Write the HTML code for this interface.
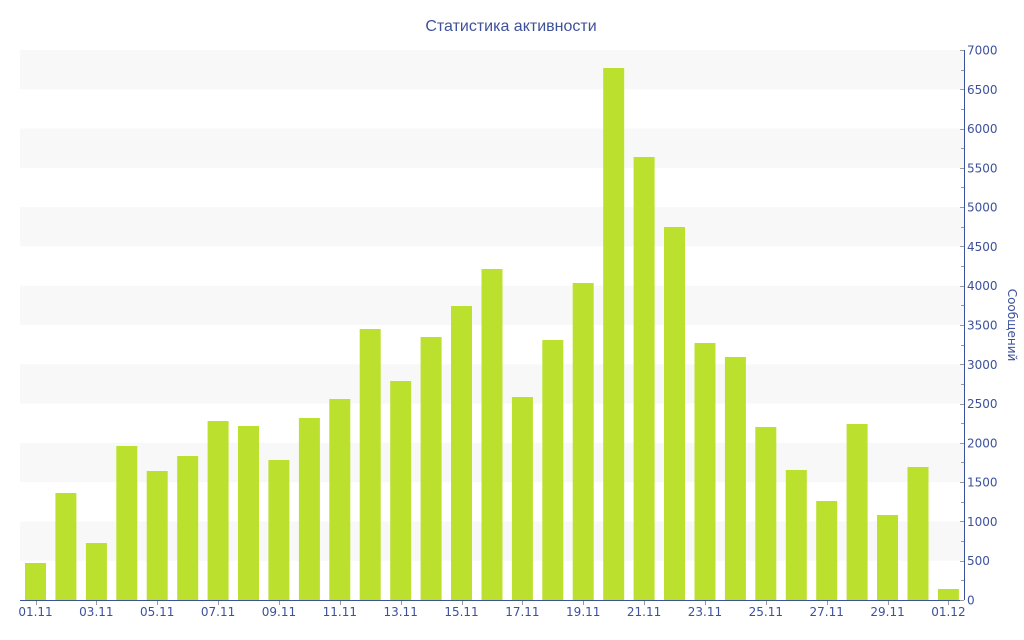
<!DOCTYPE html>
<html><head><meta charset="utf-8"><style>body{margin:0;background:#fff}svg{display:block}text{font-family:"DejaVu Sans","Liberation Sans",sans-serif;fill:#3d519b}</style></head><body>
<svg width="1024" height="640" xmlns="http://www.w3.org/2000/svg">
<text x="511" y="31" font-size="16" text-anchor="middle" style="font-family:'Liberation Sans',sans-serif">Статистика активности</text>
<g fill="#f8f8f8">
<rect x="20" y="50" width="944" height="39.3"/>
<rect x="20" y="128.6" width="944" height="39.3"/>
<rect x="20" y="207.1" width="944" height="39.3"/>
<rect x="20" y="285.7" width="944" height="39.3"/>
<rect x="20" y="364.3" width="944" height="39.3"/>
<rect x="20" y="442.9" width="944" height="39.3"/>
<rect x="20" y="521.4" width="944" height="39.3"/>
</g>
<g fill="#bce02e">
<rect x="25" y="563" width="21" height="37"/>
<rect x="55.4" y="493" width="21" height="107"/>
<rect x="85.9" y="543" width="21" height="57"/>
<rect x="116.3" y="446" width="21" height="154"/>
<rect x="146.7" y="471" width="21" height="129"/>
<rect x="177.2" y="456" width="21" height="144"/>
<rect x="207.6" y="421" width="21" height="179"/>
<rect x="238" y="426" width="21" height="174"/>
<rect x="268.4" y="460" width="21" height="140"/>
<rect x="298.9" y="418" width="21" height="182"/>
<rect x="329.3" y="399" width="21" height="201"/>
<rect x="359.7" y="329" width="21" height="271"/>
<rect x="390.2" y="381" width="21" height="219"/>
<rect x="420.6" y="337" width="21" height="263"/>
<rect x="451" y="306" width="21" height="294"/>
<rect x="481.5" y="269" width="21" height="331"/>
<rect x="511.9" y="397" width="21" height="203"/>
<rect x="542.3" y="340" width="21" height="260"/>
<rect x="572.7" y="283" width="21" height="317"/>
<rect x="603.2" y="68" width="21" height="532"/>
<rect x="633.6" y="157" width="21" height="443"/>
<rect x="664" y="227" width="21" height="373"/>
<rect x="694.5" y="343" width="21" height="257"/>
<rect x="724.9" y="357" width="21" height="243"/>
<rect x="755.3" y="427" width="21" height="173"/>
<rect x="785.8" y="470" width="21" height="130"/>
<rect x="816.2" y="501" width="21" height="99"/>
<rect x="846.6" y="424" width="21" height="176"/>
<rect x="877" y="515" width="21" height="85"/>
<rect x="907.5" y="467" width="21" height="133"/>
<rect x="937.9" y="589" width="21" height="11"/>
</g>
<g stroke="#3d519b" stroke-width="1">
<line x1="20" y1="600.5" x2="964" y2="600.5"/>
<line x1="964.5" y1="50" x2="964.5" y2="600"/>
</g>
<g stroke="#999" stroke-width="1" id="yt"></g>
<g stroke="#999" stroke-width="1" id="xt"></g>
<g font-size="12" id="yl"></g>
<g font-size="12" text-anchor="middle" id="xl"></g>
<text font-size="12" transform="translate(1008,325) rotate(90)" text-anchor="middle">Сообщений</text>
<script>
var ns="http://www.w3.org/2000/svg";
function el(p,t,a,txt){var e=document.createElementNS(ns,t);for(var k in a)e.setAttribute(k,a[k]);if(txt)e.textContent=txt;document.getElementById(p).appendChild(e);}
for(var k=0;k<=28;k++){var y=Math.round(600-k*19.643)+0.5;el("yt","line",{x1:k%2?961:960,y1:y,x2:964,y2:y});}
for(var k=0;k<=14;k++){var y=600-k*39.286;el("yl","text",{x:967,y:y+4.5},String(k*500));}
var lab=["01.11","03.11","05.11","07.11","09.11","11.11","13.11","15.11","17.11","19.11","21.11","23.11","25.11","27.11","29.11","01.12"];
for(var i=0;i<16;i++){var x=25+i*2*30.43+10.5;el("xt","line",{x1:Math.round(x)+0.5,y1:601,x2:Math.round(x)+0.5,y2:605});el("xl","text",{x:x,y:616},lab[i]);}
</script>
</svg>
</body></html>
